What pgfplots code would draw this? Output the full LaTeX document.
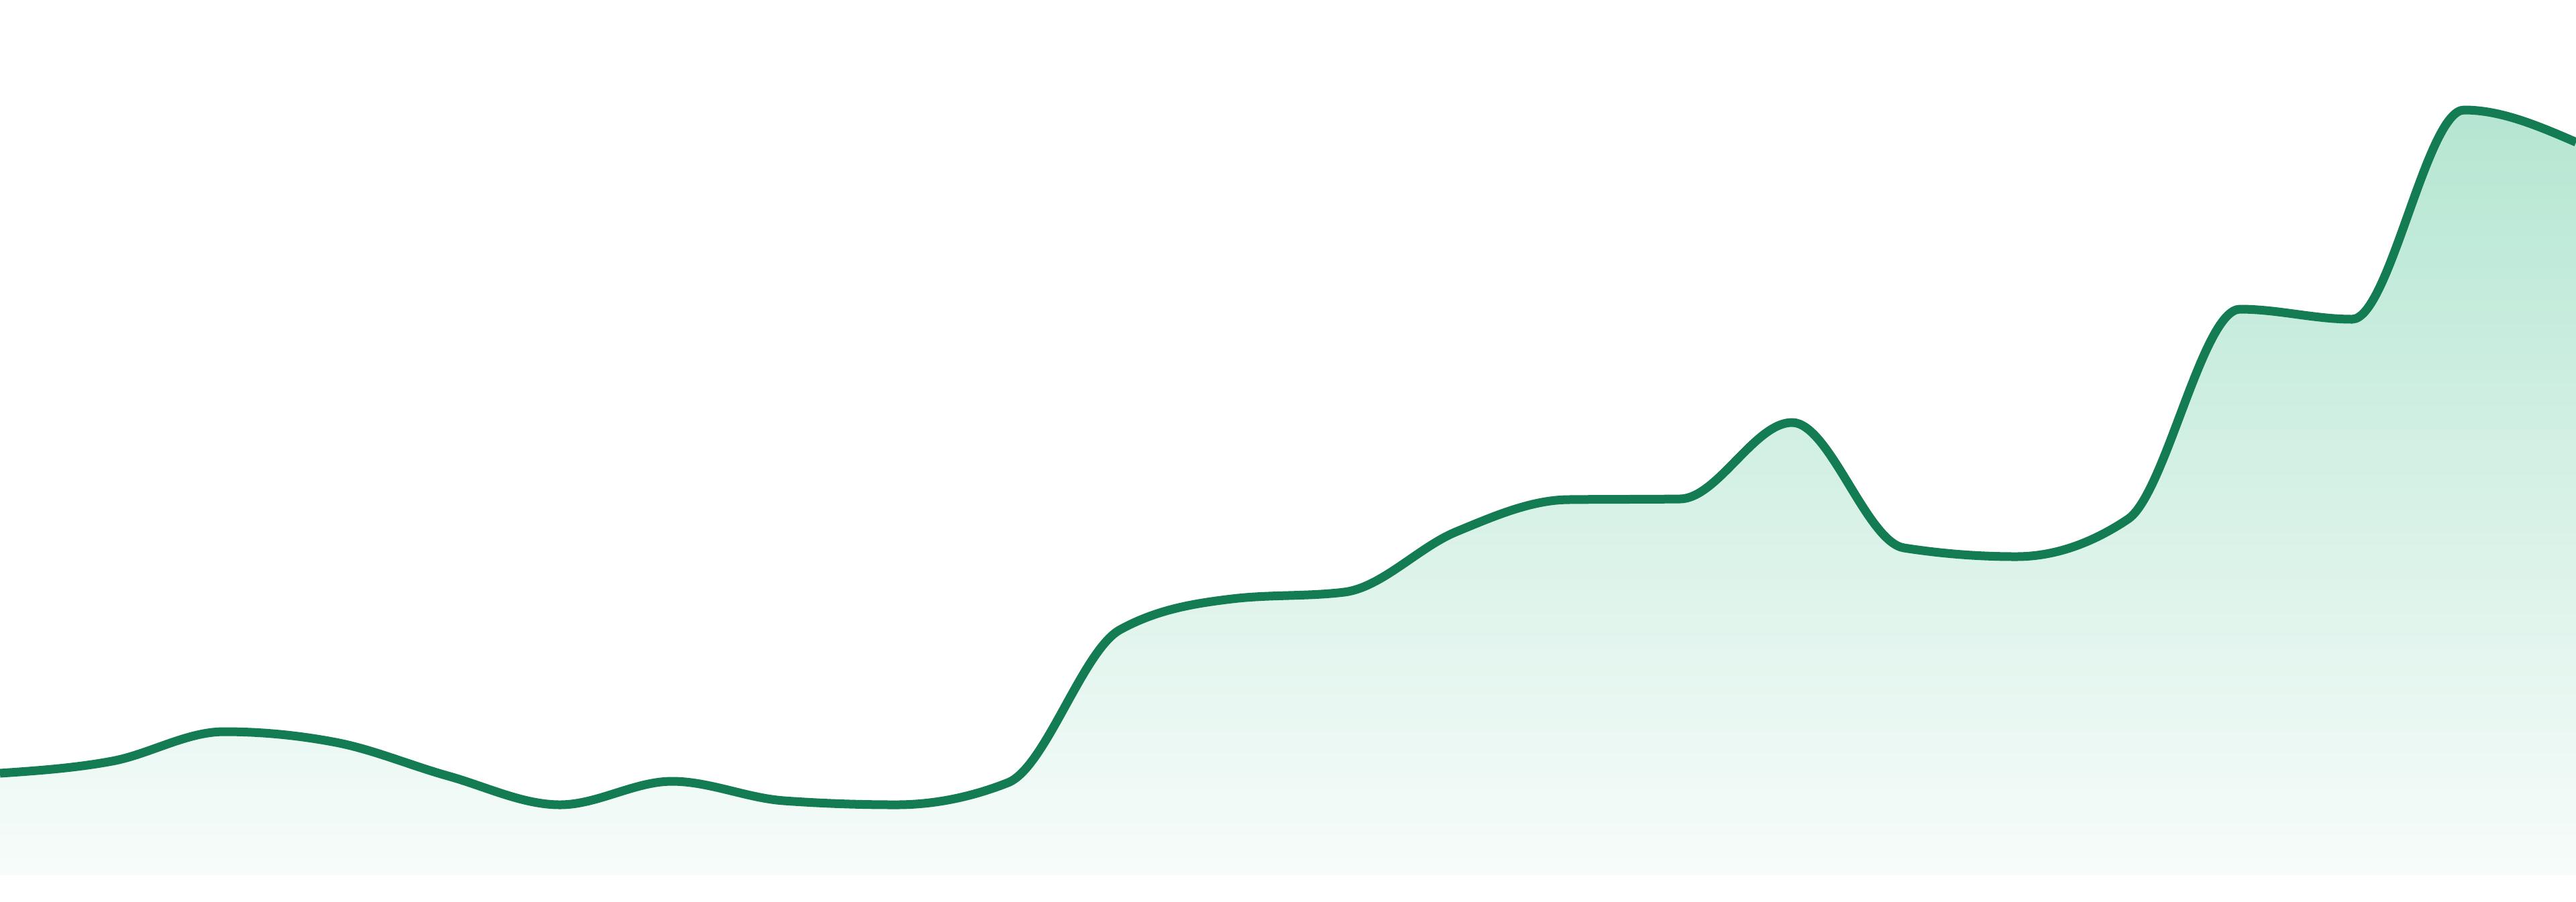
\documentclass[border=0pt]{standalone}
\usepackage{pgfplots}
\pgfplotsset{compat=1.18}
\makeatletter
\newcount\mono@n
\newcount\mono@i
\newcount\mono@j
\newcount\mono@k
\def\mono@val#1#2{\csname mono@#1@\number#2\endcsname}
\def\pgfplothandlermonotone{%
  \def\pgf@plotstreamstart{%
    \global\mono@n=0\relax
    \global\let\pgf@plotstreampoint=\mono@collect
    \global\let\pgf@plotstreamspecial=\pgfutil@gobble
    \global\let\pgf@plotstreamend=\mono@finish
  }%
}
\def\mono@collect#1{%
  \pgf@process{#1}%
  \expandafter\xdef\csname mono@x@\number\mono@n\endcsname{\pgf@sys@tonumber\pgf@x}%
  \expandafter\xdef\csname mono@y@\number\mono@n\endcsname{\pgf@sys@tonumber\pgf@y}%
  \global\advance\mono@n by 1\relax
}
\def\mono@slopes{%
  \ifnum\mono@i<\numexpr\mono@n-1\relax
    \mono@j=\mono@i \advance\mono@j by 1\relax
    \edef\mono@xa{\mono@val{x}{\mono@i}}%
    \edef\mono@ya{\mono@val{y}{\mono@i}}%
    \edef\mono@xb{\mono@val{x}{\mono@j}}%
    \edef\mono@yb{\mono@val{y}{\mono@j}}%
    \pgfmathsetmacro\mono@hh{\mono@xb-\mono@xa}%
    \pgfmathsetmacro\mono@tmp{(\mono@yb-\mono@ya)/\mono@hh}%
    \expandafter\xdef\csname mono@s@\number\mono@i\endcsname{\mono@tmp}%
    \expandafter\xdef\csname mono@h@\number\mono@i\endcsname{\mono@hh}%
    \advance\mono@i by 1\relax
    \expandafter\mono@slopes
  \fi
}
\def\mono@tangents{%
  \ifnum\mono@i<\numexpr\mono@n-1\relax
    \mono@j=\mono@i \advance\mono@j by -1\relax
    \edef\mono@sa{\mono@val{s}{\mono@j}}%
    \edef\mono@ha{\mono@val{h}{\mono@j}}%
    \edef\mono@sb{\mono@val{s}{\mono@i}}%
    \edef\mono@hb{\mono@val{h}{\mono@i}}%
    \pgfmathsetmacro\mono@p{(\mono@sa*\mono@hb+\mono@sb*\mono@ha)/(\mono@ha+\mono@hb)}%
    \pgfmathsetmacro\mono@tmp{((\mono@sa>0 && \mono@sb>0) || (\mono@sa<0 && \mono@sb<0)) ? ((\mono@sa>0 ? 2 : -2)*min(abs(\mono@sa),abs(\mono@sb),0.5*abs(\mono@p))) : 0}%
    \expandafter\xdef\csname mono@t@\number\mono@i\endcsname{\mono@tmp}%
    \advance\mono@i by 1\relax
    \expandafter\mono@tangents
  \fi
}
\def\mono@segments{%
  \ifnum\mono@i<\numexpr\mono@n-1\relax
    \mono@j=\mono@i \advance\mono@j by 1\relax
    \edef\mono@xa{\mono@val{x}{\mono@i}}%
    \edef\mono@ya{\mono@val{y}{\mono@i}}%
    \edef\mono@ta{\mono@val{t}{\mono@i}}%
    \edef\mono@xb{\mono@val{x}{\mono@j}}%
    \edef\mono@yb{\mono@val{y}{\mono@j}}%
    \edef\mono@tb{\mono@val{t}{\mono@j}}%
    \pgfmathsetmacro\mono@h{(\mono@xb-\mono@xa)/3}%
    \pgfmathsetmacro\mono@cax{\mono@xa+\mono@h}%
    \pgfmathsetmacro\mono@cay{\mono@ya+\mono@h*\mono@ta}%
    \pgfmathsetmacro\mono@cbx{\mono@xb-\mono@h}%
    \pgfmathsetmacro\mono@cby{\mono@yb-\mono@h*\mono@tb}%
    \pgfpathcurveto{\pgfqpoint{\mono@cax pt}{\mono@cay pt}}{\pgfqpoint{\mono@cbx pt}{\mono@cby pt}}{\pgfqpoint{\mono@xb pt}{\mono@yb pt}}%
    \advance\mono@i by 1\relax
    \expandafter\mono@segments
  \fi
}
\def\mono@finish{%
  \ifnum\mono@n>1\relax
    \mono@i=0\relax
    \mono@slopes
    \ifnum\mono@n>2\relax
      \mono@i=1\relax
      \mono@tangents
      \edef\mono@sa{\mono@val{s}{0}}%
      \edef\mono@tb{\mono@val{t}{1}}%
      \pgfmathsetmacro\mono@tmp{(3*\mono@sa-\mono@tb)/2}%
      \expandafter\xdef\csname mono@t@0\endcsname{\mono@tmp}%
      \mono@k=\mono@n \advance\mono@k by -1\relax
      \mono@j=\mono@k \advance\mono@j by -1\relax
      \edef\mono@sa{\mono@val{s}{\mono@j}}%
      \edef\mono@tb{\mono@val{t}{\mono@j}}%
      \pgfmathsetmacro\mono@tmp{(3*\mono@sa-\mono@tb)/2}%
      \expandafter\xdef\csname mono@t@\number\mono@k\endcsname{\mono@tmp}%
    \else
      \expandafter\xdef\csname mono@t@0\endcsname{\mono@val{s}{0}}%
      \expandafter\xdef\csname mono@t@1\endcsname{\mono@val{s}{0}}%
    \fi
    \pgf@plot@first@action{\pgfqpoint{\mono@val{x}{0}pt}{\mono@val{y}{0}pt}}%
    \mono@i=0\relax
    \mono@segments
  \fi
}
\tikzset{monotone/.code={\let\tikz@plot@handler=\pgfplothandlermonotone}}
\makeatother
\definecolor{linegreen}{RGB}{19,124,83}
\definecolor{filltop}{RGB}{181,230,210}
\definecolor{fillbot}{RGB}{247,252,250}
\pgfplotstableread{
x y
0 152
1 170
2 214
3 198
4 148
5 105
6 140
7 111
8 105
9 138
10 366
11 412
12 422
13 512
14 560
15 561
16 675
17 488
18 475
19 531
20 844
21 829
22 1141
23 1093
}\datatable
\begin{document}
\begin{tikzpicture}
\begin{axis}[
  width=384pt, height=134.4pt, scale only axis,
  hide axis, clip=true,
  xmin=0, xmax=23, ymin=-39, ymax=1305,
]
\path (rel axis cs:0,0) rectangle (rel axis cs:1,1);
\addplot[draw=none, top color=filltop, bottom color=fillbot, monotone] table[x=x,y=y] {\datatable} \closedcycle;
\addplot[linegreen, line width=1.3pt, monotone] table[x=x,y=y] {\datatable};
\end{axis}
\end{tikzpicture}
\end{document}
